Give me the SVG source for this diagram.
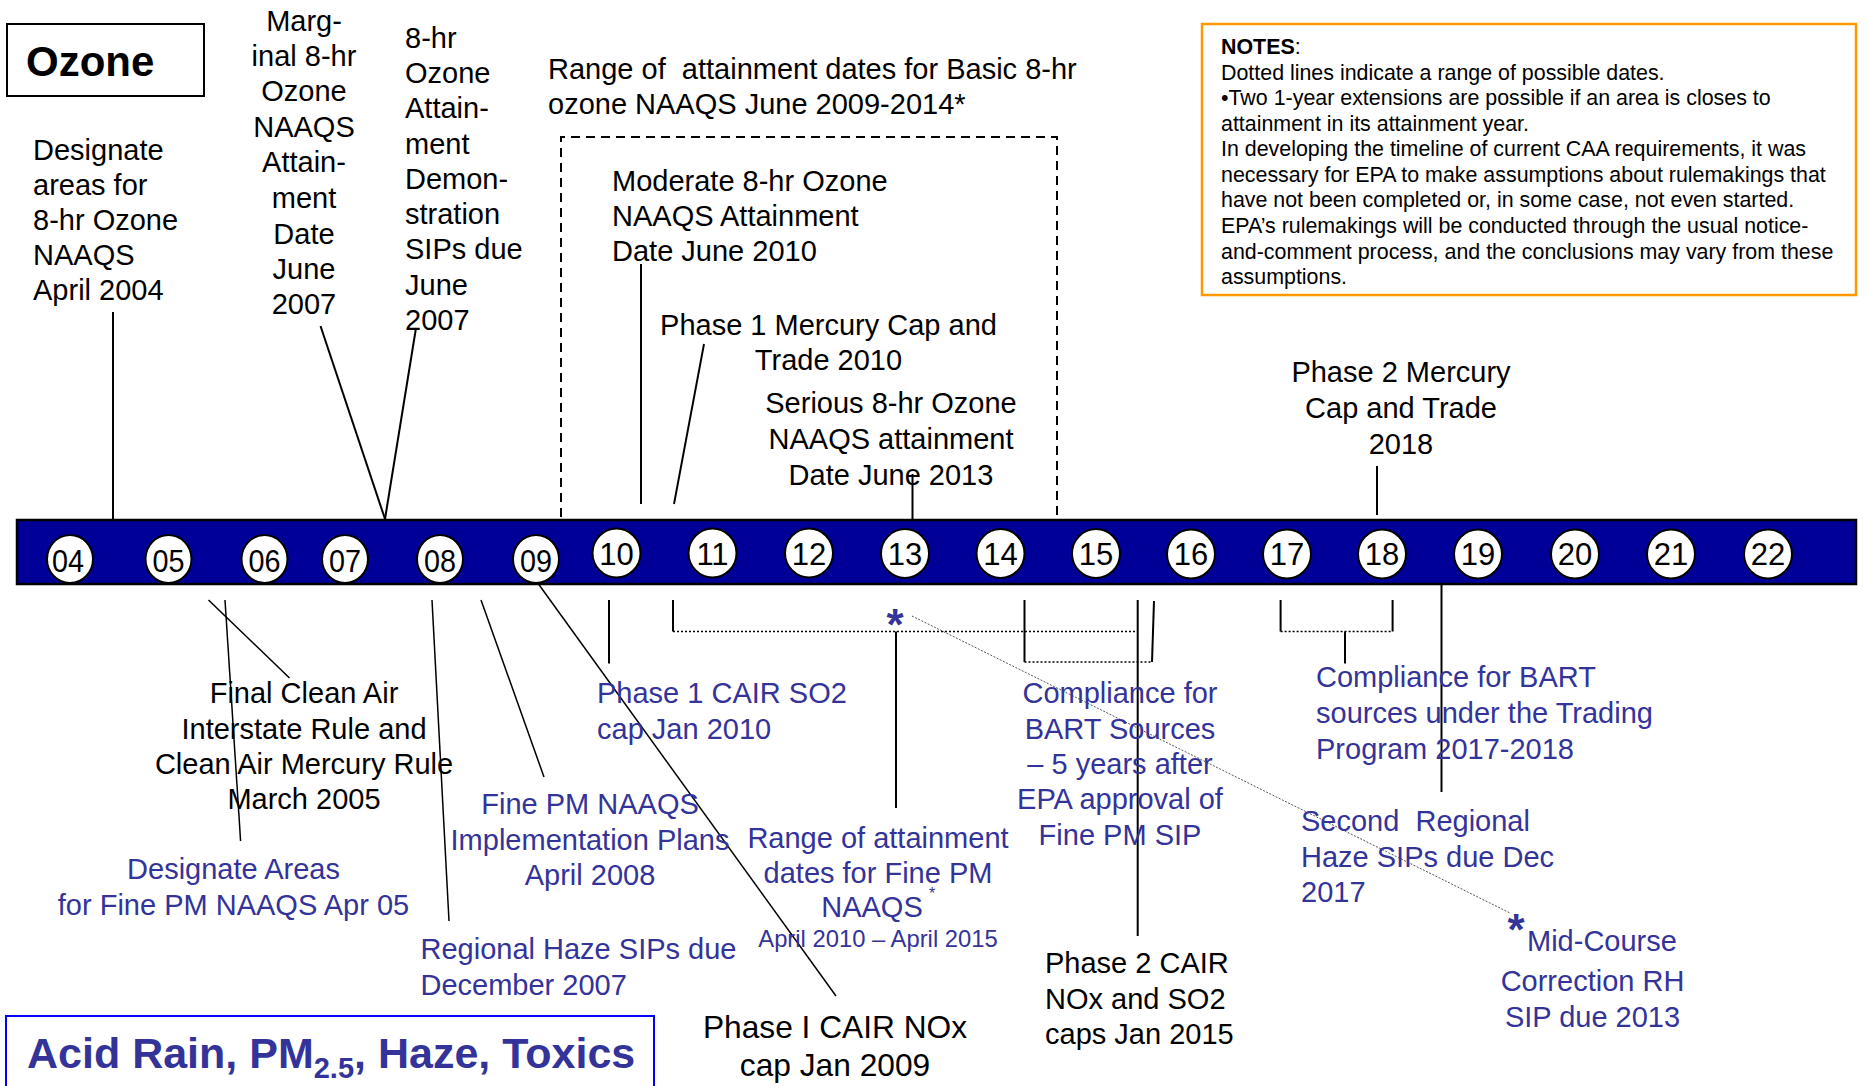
<svg xmlns="http://www.w3.org/2000/svg" width="1868" height="1086" viewBox="0 0 1868 1086">
<style>
text{font-family:"Liberation Sans",Arial,sans-serif;font-size:29px;fill:#000}
.b{fill:#333399}
.c{text-anchor:middle}
.ln{stroke:#000;stroke-width:2;fill:none}
.th{stroke:#000;stroke-width:1.5;fill:none}
.dot{stroke:#000;stroke-width:1.3;stroke-dasharray:2 2;fill:none}
.dsh{stroke:#000;stroke-width:2;stroke-dasharray:9 6;fill:none}
.yr ellipse{fill:#fff;stroke:#000;stroke-width:2}
.yr text{font-size:31px;text-anchor:middle}
.nt{font-size:21.4px}
.ast{font-size:44px;font-weight:bold;text-anchor:middle;fill:#333399}
</style>
<rect width="1868" height="1086" fill="#fff"/>

<g id="ozone-title">
<rect x="7" y="24" width="197" height="72" fill="#fff" stroke="#000" stroke-width="2"/>
<text x="26" y="76" style="font-size:42px;font-weight:bold">Ozone</text>
</g>

<g id="notes">
<rect x="1202" y="24" width="654" height="271" fill="#fff" stroke="#FF9900" stroke-width="2.5"/>
<text class="nt" x="1221" y="54"><tspan font-weight="bold">NOTES</tspan>:</text>
<text class="nt" x="1221" y="79.6">Dotted lines indicate a range of possible dates.</text>
<text class="nt" x="1221" y="105.1">•Two 1-year extensions are possible if an area is closes to</text>
<text class="nt" x="1221" y="130.7">attainment in its attainment year.</text>
<text class="nt" x="1221" y="156.2">In developing the timeline of current CAA requirements, it was</text>
<text class="nt" x="1221" y="181.8">necessary for EPA to make assumptions about rulemakings that</text>
<text class="nt" x="1221" y="207.4">have not been completed or, in some case, not even started.</text>
<text class="nt" x="1221" y="232.9">EPA’s rulemakings will be conducted through the usual notice-</text>
<text class="nt" x="1221" y="258.5">and-comment process, and the conclusions may vary from these</text>
<text class="nt" x="1221" y="284">assumptions.</text>
</g>

<g id="range-ozone">
<path class="dsh" d="M561,517 V137 H1057 V517"/>
<text x="548" y="78.5" xml:space="preserve">Range of  attainment dates for Basic 8-hr</text>
<text x="548" y="114">ozone NAAQS June 2009-2014*</text>
</g>

<g id="designate-ozone">
<text x="33" y="160">Designate</text>
<text x="33" y="195">areas for</text>
<text x="33" y="230">8-hr Ozone</text>
<text x="33" y="265">NAAQS</text>
<text x="33" y="300">April 2004</text>
</g>

<g id="marginal">
<text class="c" x="304" y="30.5">Marg-</text>
<text class="c" x="304" y="66">inal 8-hr</text>
<text class="c" x="304" y="101">Ozone</text>
<text class="c" x="304" y="137">NAAQS</text>
<text class="c" x="304" y="172">Attain-</text>
<text class="c" x="304" y="208">ment</text>
<text class="c" x="304" y="244">Date</text>
<text class="c" x="304" y="279">June</text>
<text class="c" x="304" y="314">2007</text>
</g>

<g id="demonstration">
<text x="405" y="47.5">8-hr</text>
<text x="405" y="83">Ozone</text>
<text x="405" y="118">Attain-</text>
<text x="405" y="153.5">ment</text>
<text x="405" y="189">Demon-</text>
<text x="405" y="224">stration</text>
<text x="405" y="259">SIPs due</text>
<text x="405" y="294.5">June</text>
<text x="405" y="330">2007</text>
</g>

<g id="moderate">
<text x="612" y="190.5">Moderate 8-hr Ozone</text>
<text x="612" y="226">NAAQS Attainment</text>
<text x="612" y="260.5">Date June 2010</text>
</g>

<g id="mercury1">
<text class="c" x="828.5" y="334.5">Phase 1 Mercury Cap and</text>
<text class="c" x="828.5" y="370">Trade 2010</text>
</g>

<g id="serious">
<text class="c" x="891" y="413">Serious 8-hr Ozone</text>
<text class="c" x="891" y="449">NAAQS attainment</text>
<text class="c" x="891" y="484.5">Date June 2013</text>
</g>

<g id="mercury2">
<text class="c" x="1401" y="382">Phase 2 Mercury</text>
<text class="c" x="1401" y="418">Cap and Trade</text>
<text class="c" x="1401" y="453.5">2018</text>
</g>

<g id="connectors">
<line class="ln" x1="113" y1="312" x2="113" y2="519"/>
<line class="ln" x1="320.5" y1="326" x2="385" y2="519"/>
<line class="ln" x1="416" y1="328" x2="385" y2="519"/>
<line class="ln" x1="641" y1="264" x2="641" y2="504"/>
<line class="ln" x1="704" y1="344" x2="674" y2="504"/>
<line class="ln" x1="912.5" y1="474" x2="912.5" y2="519"/>
<line class="ln" x1="1377" y1="466" x2="1377" y2="515"/>

<line class="th" x1="208.5" y1="600" x2="289.5" y2="678"/>
<line class="th" x1="225" y1="600" x2="240.6" y2="841"/>
<line class="th" x1="432" y1="600" x2="449" y2="921"/>
<line class="th" x1="481" y1="600" x2="544" y2="777"/>
<line class="th" x1="538.5" y1="584" x2="836" y2="996"/>
<line class="ln" x1="609" y1="600" x2="609" y2="663.5"/>

<line class="ln" x1="673" y1="600" x2="673" y2="631.5"/>
<line class="dot" x1="673" y1="631.5" x2="1137.7" y2="631.5"/>
<line class="ln" x1="896" y1="631.5" x2="896" y2="808"/>

<line class="ln" x1="1024.5" y1="600" x2="1024.5" y2="662"/>
<line class="dot" x1="1024.5" y1="662" x2="1152" y2="662"/>
<line class="ln" x1="1154" y1="601" x2="1152" y2="662"/>

<line class="ln" x1="1137.7" y1="600" x2="1137.7" y2="936"/>

<line class="ln" x1="1280.6" y1="600" x2="1280.6" y2="631.5"/>
<line class="dot" x1="1280.6" y1="631.5" x2="1392.6" y2="631.5"/>
<line class="ln" x1="1392.6" y1="600" x2="1392.6" y2="631.5"/>
<line class="ln" x1="1345" y1="631.5" x2="1345" y2="663.5"/>

<line class="ln" x1="1441.5" y1="584" x2="1441.5" y2="792"/>
<line stroke="#555" stroke-width="1" stroke-dasharray="2 1.5" x1="912" y1="616" x2="1510" y2="913"/>
</g>

<g id="timeline" class="yr">
<rect x="17" y="520" width="1839" height="64" fill="#000099" stroke="#000" stroke-width="2.5"/>
<ellipse cx="70" cy="559" rx="23" ry="24"/><text x="68" y="572" textLength="32" lengthAdjust="spacingAndGlyphs">04</text>
<ellipse cx="168.5" cy="559" rx="23" ry="24"/><text x="168.5" y="572" textLength="32" lengthAdjust="spacingAndGlyphs">05</text>
<ellipse cx="264.5" cy="559" rx="23" ry="24"/><text x="264.5" y="572" textLength="32" lengthAdjust="spacingAndGlyphs">06</text>
<ellipse cx="345" cy="559" rx="23" ry="24"/><text x="345" y="572" textLength="32" lengthAdjust="spacingAndGlyphs">07</text>
<ellipse cx="440" cy="559" rx="23" ry="24"/><text x="440" y="572" textLength="32" lengthAdjust="spacingAndGlyphs">08</text>
<ellipse cx="536" cy="559" rx="23" ry="24"/><text x="536" y="572" textLength="32" lengthAdjust="spacingAndGlyphs">09</text>
<ellipse cx="616.5" cy="553" rx="24" ry="24.5"/><text x="616.5" y="565">10</text>
<ellipse cx="712.5" cy="553" rx="24" ry="24.5"/><text x="712.5" y="565">11</text>
<ellipse cx="809" cy="553" rx="24" ry="24.5"/><text x="809" y="565">12</text>
<ellipse cx="905" cy="553.5" rx="24" ry="24.5"/><text x="905" y="565">13</text>
<ellipse cx="1000.5" cy="553.5" rx="24" ry="24.5"/><text x="1000.5" y="565">14</text>
<ellipse cx="1096" cy="553.5" rx="24" ry="24.5"/><text x="1096" y="565">15</text>
<ellipse cx="1191" cy="554" rx="24" ry="24.5"/><text x="1191" y="565" font-size="28">16</text>
<ellipse cx="1287" cy="554" rx="24" ry="24.5"/><text x="1287" y="565" font-size="28">17</text>
<ellipse cx="1382" cy="554" rx="24" ry="24.5"/><text x="1382" y="565" font-size="28">18</text>
<ellipse cx="1478" cy="554" rx="24" ry="24.5"/><text x="1478" y="565" font-size="28">19</text>
<ellipse cx="1575" cy="554" rx="24" ry="24.5"/><text x="1575" y="565" font-size="28">20</text>
<ellipse cx="1671" cy="554" rx="24" ry="24.5"/><text x="1671" y="565" font-size="28">21</text>
<ellipse cx="1768" cy="554" rx="24" ry="24.5"/><text x="1768" y="565" font-size="28">22</text>
</g>

<g id="cair-rule">
<text class="c" x="304" y="702.5">Final Clean Air</text>
<text class="c" x="304" y="738.5">Interstate Rule and</text>
<text class="c" x="304" y="774">Clean Air Mercury Rule</text>
<text class="c" x="304" y="808.5">March 2005</text>
</g>

<g id="designate-pm">
<text class="b c" x="233.5" y="879">Designate Areas</text>
<text class="b c" x="233.5" y="914.5">for Fine PM NAAQS Apr 05</text>
</g>

<g id="finepm-plans">
<text class="b c" x="590" y="813.5">Fine PM NAAQS</text>
<text class="b c" x="590" y="850">Implementation Plans</text>
<text class="b c" x="590" y="885">April 2008</text>
</g>

<g id="regional-haze">
<text class="b" x="420.5" y="958.5">Regional Haze SIPs due</text>
<text class="b" x="420.5" y="994.5">December 2007</text>
</g>

<g id="cair-so2">
<text class="b" x="597" y="702.5">Phase 1 CAIR SO2</text>
<text class="b" x="597" y="738.5">cap Jan 2010</text>
</g>

<g id="range-pm">
<text class="ast" x="895" y="640">*</text>
<text class="b c" x="878" y="848">Range of attainment</text>
<text class="b c" x="878" y="882.5">dates for Fine PM</text>
<text class="b c" x="872" y="917">NAAQS</text>
<text class="b" x="929" y="899" style="font-size:16px">*</text>
<text class="b c" x="878" y="946.5" style="font-size:23.8px">April 2010 – April 2015</text>
</g>

<g id="cair-nox1">
<text class="c" x="835" y="1037.5" style="font-size:31.7px">Phase I CAIR NOx</text>
<text class="c" x="835" y="1075.5" style="font-size:31.7px">cap Jan 2009</text>
</g>

<g id="bart">
<text class="b c" x="1120" y="702.5">Compliance for</text>
<text class="b c" x="1120" y="738.5">BART Sources</text>
<text class="b c" x="1120" y="774">– 5 years after</text>
<text class="b c" x="1120" y="808.5">EPA approval of</text>
<text class="b c" x="1120" y="844.5">Fine PM SIP</text>
</g>

<g id="cair-phase2">
<text x="1045" y="973">Phase 2 CAIR</text>
<text x="1045" y="1008.5">NOx and SO2</text>
<text x="1045" y="1043.5">caps Jan 2015</text>
</g>

<g id="bart-trading">
<text class="b" x="1316" y="687">Compliance for BART</text>
<text class="b" x="1316" y="723">sources under the Trading</text>
<text class="b" x="1316" y="758.5">Program 2017-2018</text>
</g>

<g id="haze2">
<text class="b" x="1301" y="831" xml:space="preserve">Second  Regional</text>
<text class="b" x="1301" y="867">Haze SIPs due Dec</text>
<text class="b" x="1301" y="901.5">2017</text>
</g>

<g id="midcourse">
<text class="ast" x="1516" y="944.5">*</text>
<text class="b" x="1527" y="950.5">Mid-Course</text>
<text class="b c" x="1592.5" y="991">Correction RH</text>
<text class="b c" x="1592.5" y="1026.5">SIP due 2013</text>
</g>

<g id="acid-rain">
<rect x="6" y="1016" width="648" height="80" fill="#fff" stroke="#0000FF" stroke-width="2"/>
<text class="b" x="27" y="1068" style="font-size:43px;font-weight:bold">Acid Rain, PM<tspan dy="10" style="font-size:29px">2.5</tspan><tspan dy="-10">, Haze, Toxics</tspan></text>
</g>
</svg>
